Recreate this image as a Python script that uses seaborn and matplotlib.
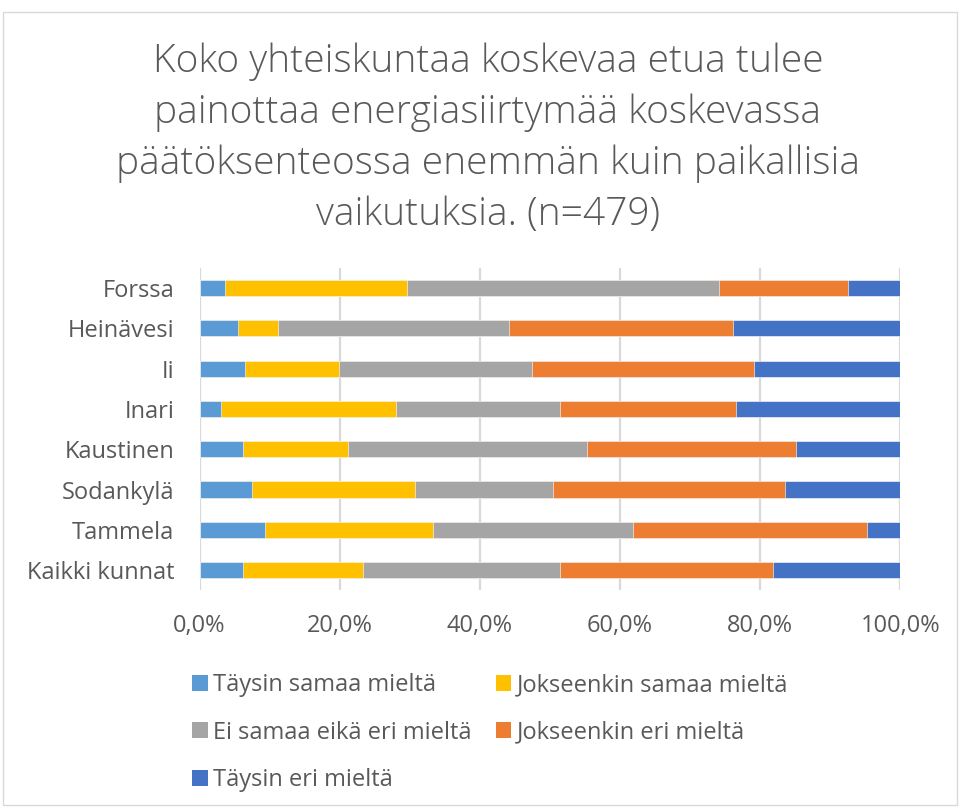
import matplotlib
matplotlib.use("Agg")
import matplotlib.pyplot as plt
import seaborn as sns
import pandas as pd
import numpy as np
from matplotlib.patches import Rectangle

categories = ["Forssa", "Heinävesi", "Ii", "Inari", "Kaustinen", "Sodankylä", "Tammela", "Kaikki kunnat"]
series_names = ["Täysin samaa mieltä", "Jokseenkin samaa mieltä", "Ei samaa eikä eri mieltä",
                "Jokseenkin eri mieltä", "Täysin eri mieltä"]
taysin_samaa = [3.6, 5.5, 6.5, 3.0, 6.2, 7.5, 9.3, 6.2]
jokseenkin_samaa = [26.0, 5.7, 13.4, 25.0, 15.0, 23.2, 24.0, 17.1]
ei_samaa_eika_eri = [44.5, 33.0, 27.5, 23.5, 34.1, 19.8, 28.6, 28.2]
jokseenkin_eri = [18.5, 31.9, 31.7, 25.1, 29.8, 33.0, 33.4, 30.4]
taysin_eri = [7.4, 23.9, 20.9, 23.4, 14.9, 16.5, 4.7, 18.1]
colors = ["#5B9BD5", "#FFC000", "#A5A5A5", "#ED7D31", "#4472C4"]
xtick_values = [0, 20, 40, 60, 80, 100]
xtick_labels = ["0,0%", "20,0%", "40,0%", "60,0%", "80,0%", "100,0%"]
title = ("Koko yhteiskuntaa koskevaa etua tulee\npainottaa energiasiirtymää koskevassa\n"
         "päätöksenteossa enemmän kuin paikallisia\nvaikutuksia. (n=479)")

sns.set_theme(style="white")
plt.rcParams['font.family'] = ['Open Sans', 'DejaVu Sans']
text_color = "#595959"

series = [taysin_samaa, jokseenkin_samaa, ei_samaa_eika_eri, jokseenkin_eri, taysin_eri]
cum = np.zeros(len(categories))
cums = []
for s in series:
    cum = cum + np.array(s)
    cums.append(cum.copy())

W, H = 960, 808
fig = plt.figure(figsize=(W / 100, H / 100), dpi=100)
fig.patches.append(Rectangle((3 / W, 1 - 805 / H), 954 / W, 793 / H, transform=fig.transFigure,
                             fill=False, edgecolor="#D9D9D9", linewidth=1.0))

ax = fig.add_axes([199.5 / W, 1 - 590.3 / H, 700.8 / W, 322.4 / H])
ax.set_axisbelow(True)

for i in range(len(series) - 1, -1, -1):
    d = pd.DataFrame({"kunta": categories, "val": cums[i]})
    sns.barplot(data=d, x="val", y="kunta", orient="h", color=colors[i], width=0.4,
                saturation=1, ax=ax, edgecolor="white", linewidth=0.4, order=categories)

ax.set_xlim(0, 100)
ax.set_ylim(len(categories) - 0.5, -0.5)
ax.set_xticks(xtick_values)
ax.set_xticklabels(xtick_labels, fontsize=17, color=text_color)
ax.tick_params(axis="y", labelsize=17, labelcolor=text_color, length=0, pad=18)
ax.tick_params(axis="x", length=0, pad=17)
ax.set_xlabel("")
ax.set_ylabel("")
ax.xaxis.grid(True, color="#D9D9D9", linewidth=1.6)
ax.yaxis.grid(False)
for sp in ax.spines.values():
    sp.set_visible(False)

fig.text(488 / W, 1 - 138 / H, title, ha="center", va="center", fontsize=28, color=text_color,
         linespacing=1.42, fontweight="light")

# Legend (row-wise order: matplotlib fills columns first)
order = [0, 2, 4, 1, 3]
handles = [Rectangle((0, 0), 1, 1, facecolor=colors[k], edgecolor="none") for k in order]
labels = [series_names[k] for k in order]
leg = fig.legend(handles, labels, ncol=2, loc="upper left",
                 bbox_to_anchor=(192 / W, 1 - 673 / H), frameon=False, fontsize=17,
                 handlelength=0.66, handleheight=0.66, handletextpad=0.25, columnspacing=1.0,
                 labelspacing=1.0, labelcolor=text_color, borderpad=0, borderaxespad=0)

fig.savefig("out.png", dpi=100)
